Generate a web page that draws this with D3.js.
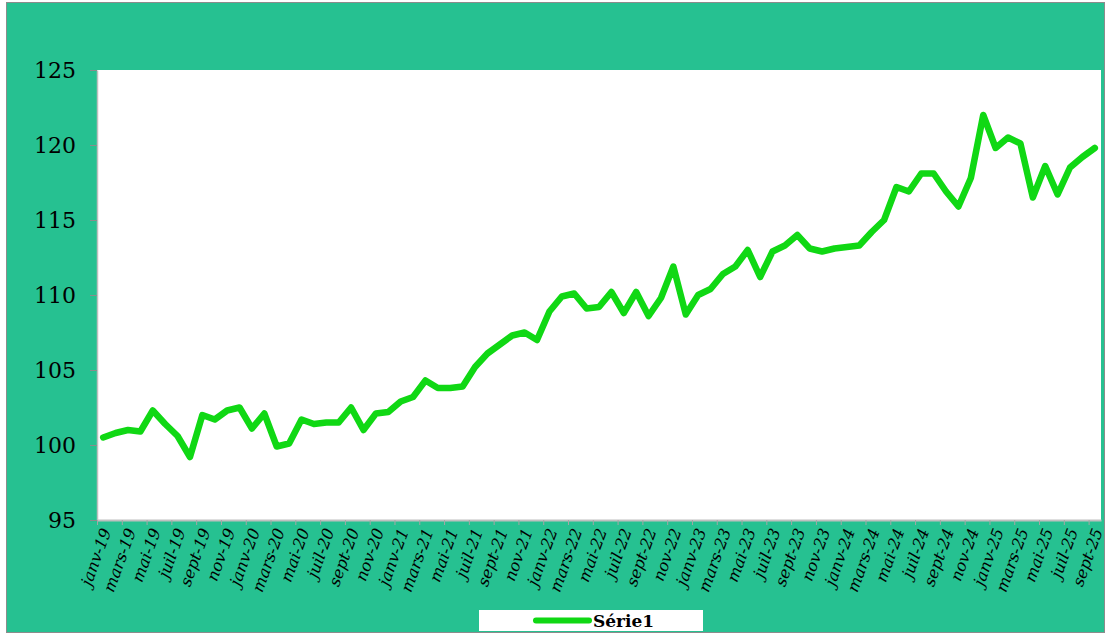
<!DOCTYPE html>
<html>
<head>
<meta charset="utf-8">
<title>Série1</title>
<script src="https://cdn.jsdelivr.net/npm/d3@7"></script>
<style>
  body { margin: 0; background: #fff; }
  svg { display: block; }
  .ylab { font-family: "DejaVu Serif", serif; font-size: 22px; fill: #000; }
  .xlab { font-family: "DejaVu Serif", serif; font-style: italic; font-size: 16px; fill: #000; }
  .leg { font-family: "DejaVu Serif", serif; font-weight: bold; font-size: 17px; fill: #000; }
</style>
</head>
<body>
<script>
// categories (one per month)
var months = [
  "janv-19","févr-19","mars-19","avr-19","mai-19","juin-19","juil-19","août-19","sept-19","oct-19","nov-19","déc-19",
  "janv-20","févr-20","mars-20","avr-20","mai-20","juin-20","juil-20","août-20","sept-20","oct-20","nov-20","déc-20",
  "janv-21","févr-21","mars-21","avr-21","mai-21","juin-21","juil-21","août-21","sept-21","oct-21","nov-21","déc-21",
  "janv-22","févr-22","mars-22","avr-22","mai-22","juin-22","juil-22","août-22","sept-22","oct-22","nov-22","déc-22",
  "janv-23","févr-23","mars-23","avr-23","mai-23","juin-23","juil-23","août-23","sept-23","oct-23","nov-23","déc-23",
  "janv-24","févr-24","mars-24","avr-24","mai-24","juin-24","juil-24","août-24","sept-24","oct-24","nov-24","déc-24",
  "janv-25","févr-25","mars-25","avr-25","mai-25","juin-25","juil-25","août-25","sept-25"
];

// Série1 values
var serie1 = [
  100.5, 100.8, 101.0, 100.9, 102.3, 101.4, 100.6, 99.2, 102.0, 101.7, 102.3, 102.5,
  101.1, 102.1, 99.9, 100.1, 101.7, 101.4, 101.5, 101.5, 102.5, 101.0, 102.1, 102.2,
  102.9, 103.2, 104.3, 103.8, 103.8, 103.9, 105.2, 106.1, 106.7, 107.3, 107.5, 107.0,
  108.9, 109.9, 110.1, 109.1, 109.2, 110.2, 108.8, 110.2, 108.6, 109.8, 111.9, 108.7,
  110.0, 110.4, 111.4, 111.9, 113.0, 111.2, 112.9, 113.3, 114.0, 113.1, 112.9, 113.1,
  113.2, 113.3, 114.2, 115.0, 117.2, 116.9, 118.1, 118.1, 116.9, 115.9, 117.8, 122.0,
  119.8, 120.5, 120.1, 116.5, 118.6, 116.7, 118.5, 119.2, 119.8
];

var yTicks = [95, 100, 105, 110, 115, 120, 125];
var seriesName = "Série1";

var W = 1106, H = 635;
var plot = {left: 97, right: 1101, top: 70, bottom: 520};

var svg = d3.select("body").append("svg")
    .attr("width", W)
    .attr("height", H);

// chart area
svg.append("rect")
    .attr("x", 6.5).attr("y", 2.5)
    .attr("width", 1098).attr("height", 630)
    .attr("fill", "#26C191")
    .attr("stroke", "#8c8c8c")
    .attr("stroke-width", 1);

// plot area
svg.append("rect")
    .attr("x", plot.left).attr("y", plot.top)
    .attr("width", plot.right - plot.left)
    .attr("height", plot.bottom - plot.top)
    .attr("fill", "#fff");

var x = d3.scaleBand()
    .domain(months)
    .range([plot.left, plot.right])
    .padding(0);

// index scale for tick marks sitting between categories
var xi = d3.scaleLinear()
    .domain([0, months.length])
    .range([plot.left, plot.right]);

var y = d3.scaleLinear()
    .domain([95, 125])
    .range([plot.bottom, plot.top]);

// y axis
var gy = svg.append("g")
    .attr("transform", "translate(" + plot.left + ",0)")
    .call(d3.axisLeft(y).tickValues(yTicks).tickSize(7).tickSizeOuter(0).tickPadding(14));
gy.select(".domain").attr("stroke", "#bfbfbf").attr("stroke-width", 1.5);
gy.selectAll(".tick line").attr("stroke", "#8c8c8c");
gy.selectAll(".tick text").attr("class", "ylab").attr("font-size", null).attr("font-family", null);

// x axis (ticks every two months)
var tickIdx = d3.range(0, months.length, 2);
var gx = svg.append("g")
    .attr("transform", "translate(0," + plot.bottom + ")")
    .call(d3.axisBottom(xi).tickValues(tickIdx).tickSize(5).tickSizeOuter(0).tickFormat(""));
gx.select(".domain").attr("stroke", "#bfbfbf").attr("stroke-width", 2);
gx.selectAll(".tick line").attr("stroke", "#a6a6a6");

svg.append("g")
  .selectAll("text")
  .data(months.filter(function(d, i) { return i % 2 === 0; }))
  .enter().append("text")
    .attr("class", "xlab")
    .attr("text-anchor", "end")
    .attr("transform", function(d) {
        return "translate(" + (x(d) + x.bandwidth() / 2 + 3) + "," + (plot.bottom + 9) + ")rotate(-70)";
    })
    .attr("dy", "0.35em")
    .text(function(d) { return d; });

// line
var line = d3.line()
    .x(function(d, i) { return x(months[i]) + x.bandwidth() / 2; })
    .y(function(d) { return y(d); });

svg.append("path")
    .datum(serie1)
    .attr("fill", "none")
    .attr("stroke", "#10D814")
    .attr("stroke-width", 6.5)
    .attr("stroke-linejoin", "round")
    .attr("stroke-linecap", "round")
    .attr("d", line);

// legend
var leg = svg.append("g");
leg.append("rect")
    .attr("x", 479).attr("y", 610)
    .attr("width", 224).attr("height", 21)
    .attr("fill", "#fff");
leg.append("line")
    .attr("x1", 536).attr("x2", 589)
    .attr("y1", 620.5).attr("y2", 620.5)
    .attr("stroke", "#10D814")
    .attr("stroke-width", 6)
    .attr("stroke-linecap", "round");
leg.append("text")
    .attr("class", "leg")
    .attr("x", 593).attr("y", 627)
    .text(seriesName);
</script>
</body>
</html>
